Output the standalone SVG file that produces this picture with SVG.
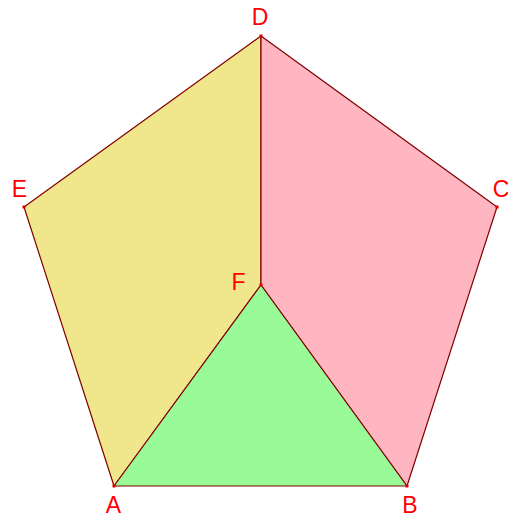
<svg xmlns="http://www.w3.org/2000/svg" width="508" height="518" viewBox="0 0 508 518">
<style>
.face{stroke:#800000;stroke-width:1.2;stroke-linejoin:round}
.pt{fill:#e00000}
.lbl{font-family:"Liberation Sans",Arial,sans-serif;font-size:23px;fill:#ff0000;text-anchor:middle}
</style>
<rect width="508" height="518" fill="#ffffff"/>
<g id="faces">
<polygon id="yellow" class="face" fill="#f0e68c" points="24,207 261,36 261,285 114,486"/>
<polygon id="pink" class="face" fill="#ffb6c1" points="261,36 497,207 407,486 261,285"/>
<polygon id="green" class="face" fill="#98fb98" points="114,486 261,285 407,486"/>
</g>
<g id="connectors"></g>
<g id="D"><rect class="pt" x="259.5" y="34.5" width="3" height="3"/><text class="lbl" x="260" y="25">D</text></g>
<g id="C"><rect class="pt" x="495.5" y="205.5" width="3" height="3"/><text class="lbl" x="501" y="197">C</text></g>
<g id="E"><rect class="pt" x="22.5" y="205.5" width="3" height="3"/><text class="lbl" x="19.5" y="197">E</text></g>
<g id="F"><rect class="pt" x="259.5" y="283.5" width="3" height="3"/><text class="lbl" x="238.5" y="290">F</text></g>
<g id="A"><rect class="pt" x="112.5" y="484.5" width="3" height="3"/><text class="lbl" x="113.5" y="513">A</text></g>
<g id="B"><rect class="pt" x="405.5" y="484.5" width="3" height="3"/><text class="lbl" x="410" y="513">B</text></g>
</svg>
